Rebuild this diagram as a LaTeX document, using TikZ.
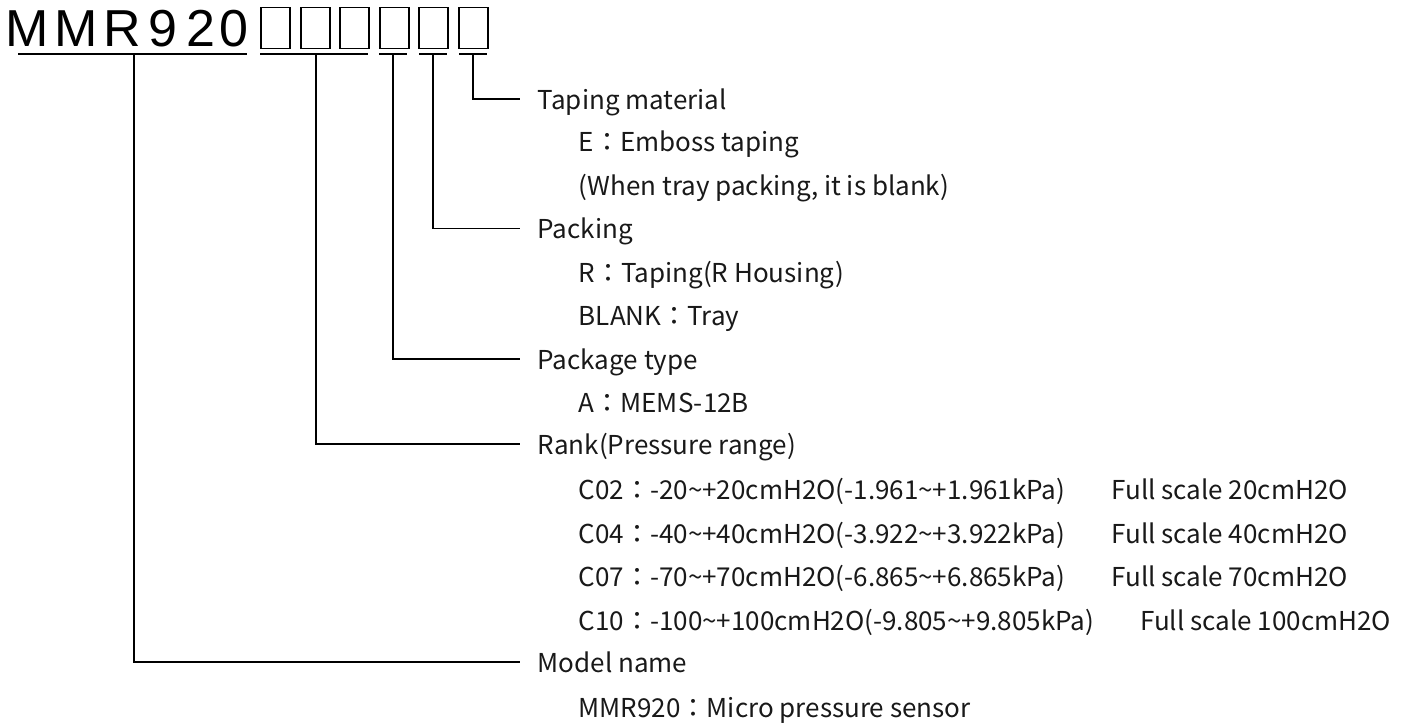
\documentclass[tikz,border=0pt]{standalone}
\usepackage{fontspec}
\setmainfont{Noto Sans CJK JP}
\newfontfamily\titlefont{Liberation Sans}
\newcommand\tld{\char"007E\relax}
\newcommand\gapfs{\hspace{46pt}}
\begin{document}
\begin{tikzpicture}[x=1pt,y=-1pt,
  line width=1.5pt,
  lbl/.style={anchor=base west,inner sep=0pt,text height=20pt,text depth=0pt,
    font=\fontsize{26}{30}\selectfont,text=black!90},
  ttl/.style={anchor=base,inner sep=0pt,font=\titlefont\fontsize{52}{52}\selectfont},
  slot/.style={draw,line width=1.5pt,minimum width=29pt,minimum height=41pt,inner sep=0pt,anchor=north west},
  conn/.style={line width=1.5pt,shorten >=17pt}]
\useasboundingbox (0,0) rectangle (1407,725);
% title letters
\node[ttl] (t1) at (27.5,47) {M};
\node[ttl] (t2) at (76,47) {M};
\node[ttl] (t3) at (122.5,47) {R};
\node[ttl] (t4) at (162.5,47) {9};
\node[ttl] (t5) at (200.5,47) {2};
\node[ttl] (t6) at (233.5,47) {0};
% slots
\node[slot] (b1) at (260,7) {};
\node[slot] (b2) at (300,7) {};
\node[slot] (b3) at (339,7) {};
\node[slot] (b4) at (379,7) {};
\node[slot] (b5) at (418,7) {};
\node[slot] (b6) at (458,7) {};
% underlines
\draw (18,54) -- (247,54);
\draw (260,54) -- (368,54);
\draw (379,54) -- (407,54);
\draw (419,54) -- (447,54);
\draw (459,54) -- (487,54);
\coordinate (u1) at (134,54);
\coordinate (u2) at (316,54);
\coordinate (u3) at (393,54);
\coordinate (u4) at (433,54);
\coordinate (u5) at (473,54);
% labels
\node[lbl] (tm) at (537,109) {Taping material};
\node[lbl] (tm1) at (578,151.5) {E：Emboss taping};
\node[lbl] (tm2) at (578,195) {(When tray packing, it is blank)};
\node[lbl] (pk) at (537,238.5) {Packing};
\node[lbl] (pk1) at (578,282) {R：Taping(R Housing)};
\node[lbl] (pk2) at (578,325.5) {BLANK：Tray};
\node[lbl] (pt) at (537,369) {Package type};
\node[lbl] (pt1) at (578,412.5) {A：MEMS-12B};
\node[lbl] (rk) at (537,454) {Rank(Pressure range)};
\node[lbl] (rk1) at (578,499.5) {C02：-20\tld+20cmH2O(-1.961\tld+1.961kPa)\gapfs Full scale 20cmH2O};
\node[lbl] (rk2) at (578,543) {C04：-40\tld+40cmH2O(-3.922\tld+3.922kPa)\gapfs Full scale 40cmH2O};
\node[lbl] (rk3) at (578,586.5) {C07：-70\tld+70cmH2O(-6.865\tld+6.865kPa)\gapfs Full scale 70cmH2O};
\node[lbl] (rk4) at (578,630) {C10：-100\tld+100cmH2O(-9.805\tld+9.805kPa)\gapfs Full scale 100cmH2O};
\node[lbl] (mn) at (537,672) {Model name};
\node[lbl] (mn1) at (578,717) {MMR920：Micro pressure sensor};
% connectors
\draw[conn] (u5) |- (tm.west);
\draw[conn] (u4) |- (pk.west);
\draw[conn] (u3) |- (pt.west);
\draw[conn] (u2) |- (rk.west);
\draw[conn] (u1) |- (mn.west);
\end{tikzpicture}
\end{document}
